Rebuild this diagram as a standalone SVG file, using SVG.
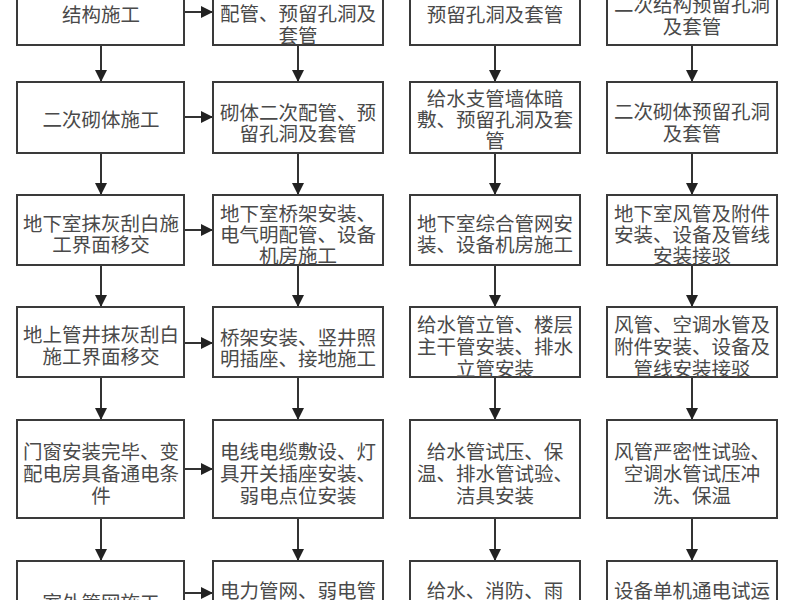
<svg xmlns="http://www.w3.org/2000/svg" width="800" height="600" viewBox="0 0 800 600">
<style>
.box{fill:#fff;stroke:#3a3a3a;stroke-width:2}
.t{font-family:"Noto Sans CJK SC","Noto Sans CJK JP",sans-serif;font-size:19.5px;fill:#4a4a4a;text-anchor:middle;dominant-baseline:central}
.c{stroke:#333;stroke-width:2;fill:none;marker-end:url(#ah)}
</style>
<defs>
<marker id="ah" markerUnits="userSpaceOnUse" markerWidth="12" markerHeight="12" refX="12" refY="6" orient="auto">
<path d="M0,0 L12,6 L0,12 Z" fill="#222"/>
</marker>
</defs>
<rect width="800" height="600" fill="#fff"/>
<g id="connectors">
<path class="c" d="M101,45 V82"/><path class="c" d="M101,153 V195"/><path class="c" d="M101,265 V307"/><path class="c" d="M101,377 V420"/><path class="c" d="M101,518 V561"/>
<path class="c" d="M298,45 V82"/><path class="c" d="M298,153 V195"/><path class="c" d="M298,265 V307"/><path class="c" d="M298,377 V420"/><path class="c" d="M298,518 V561"/>
<path class="c" d="M495,45 V82"/><path class="c" d="M495,153 V195"/><path class="c" d="M495,265 V307"/><path class="c" d="M495,377 V420"/><path class="c" d="M495,518 V561"/>
<path class="c" d="M692,45 V82"/><path class="c" d="M692,153 V195"/><path class="c" d="M692,265 V307"/><path class="c" d="M692,377 V420"/><path class="c" d="M692,518 V561"/>
<path class="c" d="M184,12 H213"/><path class="c" d="M184,117 H213"/><path class="c" d="M184,230 H213"/><path class="c" d="M184,343 H213"/><path class="c" d="M184,469 H213"/><path class="c" d="M184,593 H213"/>
</g>
<g id="r1c1"><rect class="box" x="17" y="-30" width="167" height="75"/><text class="t" x="101" y="13">结构施工</text></g>
<g id="r1c2"><rect class="box" x="213" y="-30" width="170" height="75"/><text class="t"><tspan x="298" y="12">配管、预留孔洞及</tspan><tspan x="298" y="34">套管</tspan></text></g>
<g id="r1c3"><rect class="box" x="410" y="-30" width="170" height="75"/><text class="t" x="495" y="13">预留孔洞及套管</text></g>
<g id="r1c4"><rect class="box" x="607" y="-30" width="170" height="75"/><text class="t"><tspan x="692" y="3">二次结构预留孔洞</tspan><tspan x="692" y="25">及套管</tspan></text></g>

<g id="r2c1"><rect class="box" x="17" y="82" width="167" height="71"/><text class="t" x="101" y="118">二次砌体施工</text></g>
<g id="r2c2"><rect class="box" x="213" y="82" width="170" height="71"/><text class="t"><tspan x="298" y="111">砌体二次配管、预</tspan><tspan x="298" y="132">留孔洞及套管</tspan></text></g>
<g id="r2c3"><rect class="box" x="410" y="82" width="170" height="71"/><text class="t"><tspan x="495" y="97">给水支管墙体暗</tspan><tspan x="495" y="118">敷、预留孔洞及套</tspan><tspan x="495" y="139">管</tspan></text></g>
<g id="r2c4"><rect class="box" x="607" y="82" width="170" height="71"/><text class="t"><tspan x="692" y="110">二次砌体预留孔洞</tspan><tspan x="692" y="132">及套管</tspan></text></g>

<g id="r3c1"><rect class="box" x="17" y="195" width="167" height="70"/><text class="t"><tspan x="101" y="222">地下室抹灰刮白施</tspan><tspan x="101" y="243">工界面移交</tspan></text></g>
<g id="r3c2"><rect class="box" x="213" y="195" width="170" height="70"/><text class="t"><tspan x="298" y="212">地下室桥架安装、</tspan><tspan x="298" y="233">电气明配管、设备</tspan><tspan x="298" y="254">机房施工</tspan></text></g>
<g id="r3c3"><rect class="box" x="410" y="195" width="170" height="70"/><text class="t"><tspan x="495" y="222">地下室综合管网安</tspan><tspan x="495" y="243">装、设备机房施工</tspan></text></g>
<g id="r3c4"><rect class="box" x="607" y="195" width="170" height="70"/><text class="t"><tspan x="692" y="212">地下室风管及附件</tspan><tspan x="692" y="233">安装、设备及管线</tspan><tspan x="692" y="254">安装接驳</tspan></text></g>

<g id="r4c1"><rect class="box" x="17" y="307" width="167" height="70"/><text class="t"><tspan x="101" y="333">地上管井抹灰刮白</tspan><tspan x="101" y="355">施工界面移交</tspan></text></g>
<g id="r4c2"><rect class="box" x="213" y="307" width="170" height="70"/><text class="t"><tspan x="298" y="336">桥架安装、竖井照</tspan><tspan x="298" y="357">明插座、接地施工</tspan></text></g>
<g id="r4c3"><rect class="box" x="410" y="307" width="170" height="70"/><text class="t"><tspan x="495" y="323">给水管立管、楼层</tspan><tspan x="495" y="345">主干管安装、排水</tspan><tspan x="495" y="367">立管安装</tspan></text></g>
<g id="r4c4"><rect class="box" x="607" y="307" width="170" height="70"/><text class="t"><tspan x="692" y="323">风管、空调水管及</tspan><tspan x="692" y="345">附件安装、设备及</tspan><tspan x="692" y="367">管线安装接驳</tspan></text></g>

<g id="r5c1"><rect class="box" x="17" y="420" width="167" height="98"/><text class="t"><tspan x="101" y="450">门窗安装完毕、变</tspan><tspan x="101" y="472">配电房具备通电条</tspan><tspan x="101" y="494">件</tspan></text></g>
<g id="r5c2"><rect class="box" x="213" y="420" width="170" height="98"/><text class="t"><tspan x="298" y="450">电线电缆敷设、灯</tspan><tspan x="298" y="472">具开关插座安装、</tspan><tspan x="298" y="494">弱电点位安装</tspan></text></g>
<g id="r5c3"><rect class="box" x="410" y="420" width="170" height="98"/><text class="t"><tspan x="495" y="450">给水管试压、保</tspan><tspan x="495" y="472">温、排水管试验、</tspan><tspan x="495" y="494">洁具安装</tspan></text></g>
<g id="r5c4"><rect class="box" x="607" y="420" width="170" height="98"/><text class="t"><tspan x="692" y="450">风管严密性试验、</tspan><tspan x="692" y="472">空调水管试压冲</tspan><tspan x="692" y="494">洗、保温</tspan></text></g>

<g id="r6c1"><rect class="box" x="17" y="561" width="167" height="80"/><text class="t" x="101" y="601">室外管网施工</text></g>
<g id="r6c2"><rect class="box" x="213" y="561" width="170" height="80"/><text class="t" x="298" y="589">电力管网、弱电管</text></g>
<g id="r6c3"><rect class="box" x="410" y="561" width="170" height="80"/><text class="t" x="495" y="589">给水、消防、雨</text></g>
<g id="r6c4"><rect class="box" x="607" y="561" width="170" height="80"/><text class="t" x="692" y="589">设备单机通电试运</text></g>
</svg>
